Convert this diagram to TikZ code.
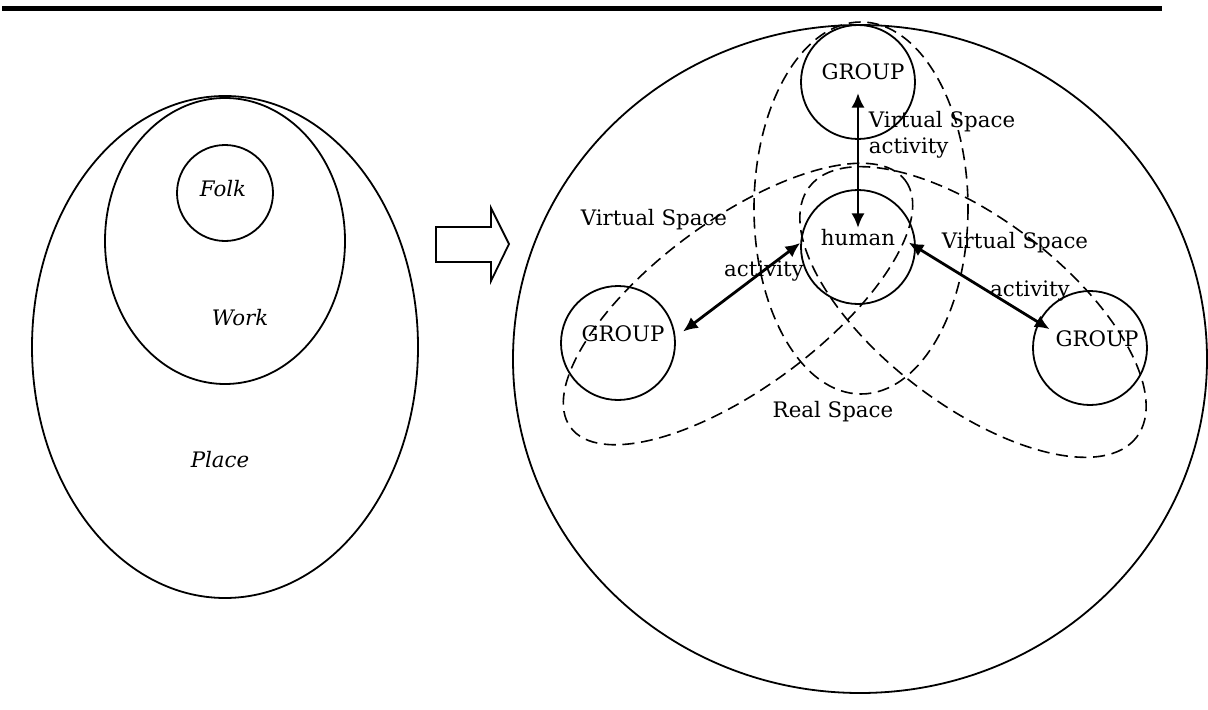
\documentclass[tikz,border=0pt]{standalone}
\usepackage{fontspec}
\setmainfont{DejaVu Serif}
\usetikzlibrary{arrows.meta,calc}
\begin{document}
\begin{tikzpicture}[x=0.75pt,y=-0.75pt,line width=1.35pt,
	every node/.style={font=\fontsize{16}{19}\selectfont},
	grp/.style={draw,circle,inner sep=0pt,minimum size=85.5pt},
	lbl/.style={inner sep=0pt},
	vs/.style={line width=1.2pt,dash pattern=on 9pt off 5pt},
	dbl/.style={{Latex[length=11pt,width=10pt]}-{Latex[length=11pt,width=10pt]},line width=2.1pt}]
	\useasboundingbox (0,0) rectangle (1208,710);
	% rule
	\fill (2,6) rectangle (1162,11);
	
	% left: Place / Work / Folk
	\draw (225,347) ellipse [x radius=193, y radius=251];
	\draw (225,241) ellipse [x radius=120, y radius=143];
	\node[grp,minimum size=72pt] (folk) at (225,193) {};
	\node[lbl] (folktext) at (223,189) {\itshape Folk};
	\node[lbl] (worktext) at (240,318) {\itshape Work};
	\node[lbl] (placetext) at (220,460) {\itshape Place};
	
	\draw (436,227) -- (491,227) -- (491,208) -- (509,244) -- (491,281) -- (491,262) -- (436,262) -- cycle;
	
	% right
	\draw (860,359) ellipse [x radius=347, y radius=334];
	\draw[vs] (861,208) ellipse [x radius=107, y radius=186];
	\draw[vs,rotate around={36.4:(738,304)}] (738,304) ellipse [x radius=208, y radius=84];
	\draw[vs,rotate around={-37.4:(973,312)}] (973,312) ellipse [x radius=206, y radius=93];
	
	\node[grp] (tgroup) at (858,82) {};
	\node[grp] (human) at (858,247) {};
	\node[grp] (lgroup) at (618,343) {};
	\node[grp] (rgroup) at (1090,348) {};
	\node[lbl] (tgrouptext) at (863,72) {GROUP};
	\node[lbl] (humantext) at (858,238) {human};
	\node[lbl] (lgrouptext) at (623,334) {GROUP};
	\node[lbl] (rgrouptext) at (1097,339) {GROUP};
	
	\node[lbl] (vsleft) at (654,220) {Virtual Space};
	\node[lbl] (actleft) at (764,271) {activity};
	\node[lbl,anchor=west] (vstop) at (868,122) {Virtual Space};
	\node[lbl,anchor=west] (acttop) at (868,148) {activity};
	\node[lbl] (vsright) at (1015,243) {Virtual Space};
	\node[lbl] (actright) at (1030,291) {activity};
	\node[lbl] (real) at (833,412) {Real Space};
	
	\draw[dbl] ($(tgroup.center)+(0,11)$) -- ($(human.center)+(0,-19)$);
	\draw[dbl] (human.176) -- ($(lgroup.center)!1.14!(lgroup.10)$);
	\draw[dbl] ($(human.center)!0.88!(human.5)$) -- ($(rgroup.center)!0.77!(rgroup.155)$);
\end{tikzpicture}
\end{document}
